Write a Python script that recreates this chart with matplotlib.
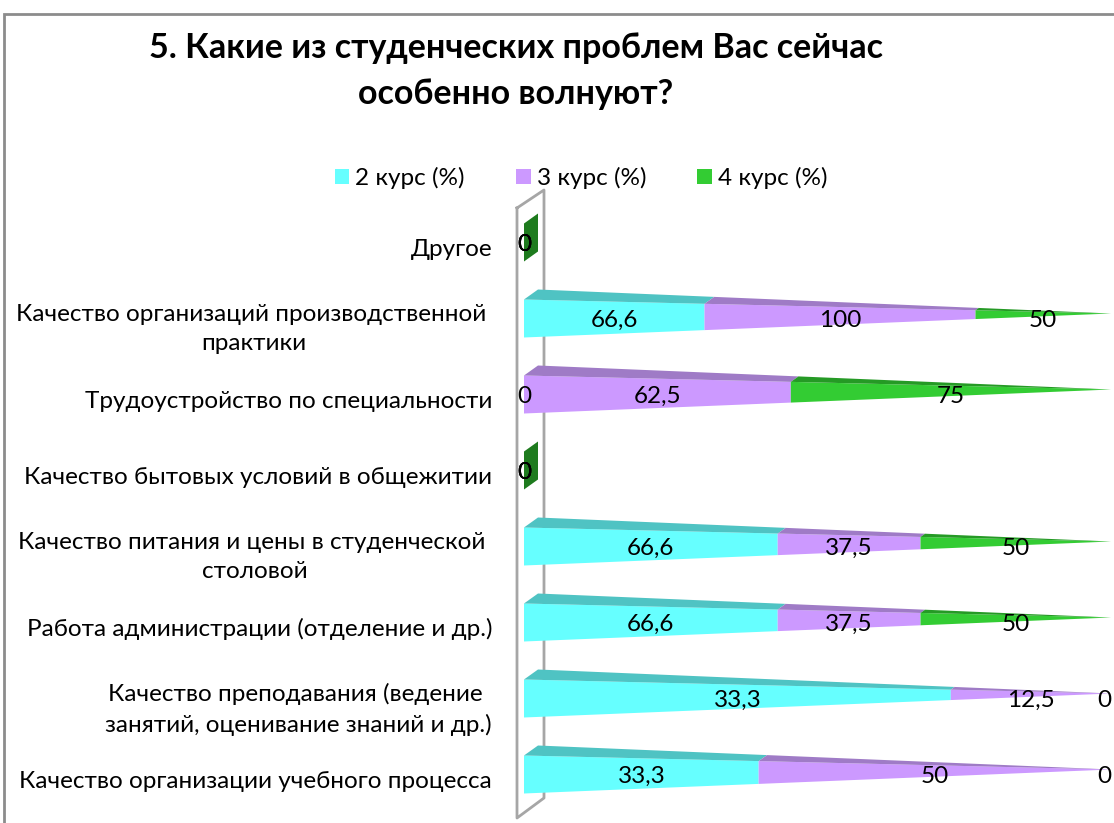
import matplotlib
matplotlib.use("Agg")
from matplotlib import pyplot as plt
from matplotlib.patches import Polygon, Patch, Rectangle
from matplotlib.transforms import ScaledTranslation

plt.rcParams['font.family'] = ['Lato', 'DejaVu Sans']

categories = [
    "Другое",
    "Качество организаций производственной \nпрактики",
    "Трудоустройство по специальности",
    "Качество бытовых условий в общежитии",
    "Качество питания и цены в студенческой \nстоловой",
    "Работа администрации (отделение и др.)",
    "Качество преподавания (ведение \nзанятий, оценивание знаний и др.)",
    "Качество организации учебного процесса",
]
kurs2 = [0, 66.6, 0, 0, 66.6, 66.6, 33.3, 33.3]
kurs3 = [0, 100, 62.5, 0, 37.5, 37.5, 12.5, 50]
kurs4 = [0, 50, 75, 0, 50, 50, 0, 0]
series_names = ["2 курс (%)", "3 курс (%)", "4 курс (%)"]

front_colors = ["#66FFFF", "#CC99FF", "#33CC33"]
top_colors = ["#4FC3C3", "#9F7BC6", "#259A25"]
zero_color = "#1E7B1E"
fs = 17.5

W, H = 1114, 823
fig = plt.figure(figsize=(W / 100, H / 100), dpi=100)

# chart frame (only top and left visible in the original crop)
fig.add_artist(Rectangle((4 / W, -0.1), 1.2, (H - 14) / H + 0.1, transform=fig.transFigure,
                         fill=False, edgecolor="#8C8C8C", lw=2))

fig.text(516 / W, 1 - 71 / H, "5. Какие из студенческих проблем Вас сейчас\nособенно волнуют?",
         ha="center", va="center", fontsize=24.5, fontweight="bold", linespacing=1.5)

ax = fig.add_axes([524 / W, 1 - 812.5 / H, 580 / W, 608 / H])
ax.set_xlim(0, 100)
ax.set_ylim(7.5, -0.5)
ax.patch.set_visible(False)
for s in ax.spines.values():
    s.set_visible(False)
ax.set_xticks([])
ax.set_yticks(range(len(categories)), categories, fontsize=fs, multialignment="center")
ax.tick_params(axis="y", length=0, pad=23)
for lbl in ax.get_yticklabels():
    lbl.set_linespacing(1.45)
    lbl.set_transform(lbl.get_transform() + ScaledTranslation(0, -3.5 / 72, fig.dpi_scale_trans))

px = 580 / 100.0   # pixels per percent
py = 76.0          # pixels per category
dx = 14 / px       # depth offset (x)
dy = -10 / py      # depth offset (y, upward)
hh = 0.25          # half height of front face

# back wall
wall_x = [-7 / px, -7 / px, 20 / px, 20 / px, -7 / px]
wall_y = [-34.5 / py, 575.5 / py, 555.5 / py, -52.5 / py, -34.5 / py]
ax.plot(wall_x, wall_y, color="#A6A6A6", lw=2, clip_on=False, zorder=1)


def pt(f, i, ox, oy):
    xc = 100 * f + dx / 2
    yc = i + dy / 2
    return (xc + (1 - f) * ox, yc + (1 - f) * oy)


ft = (-dx / 2, -hh - dy / 2)
fb = (-dx / 2, hh - dy / 2)
bt = (dx / 2, -hh + dy / 2)

values = [kurs2, kurs3, kurs4]
for i in range(len(categories)):
    row = [v[i] for v in values]
    total = sum(row)
    if total == 0:
        slab = [(0, i - hh), (0, i + hh), (dx, i + hh + dy), (dx, i - hh + dy)]
        ax.add_patch(Polygon(slab, closed=True, facecolor=zero_color, edgecolor="none",
                             clip_on=False, zorder=2))
        for v in row:
            ax.text(0, i + 0.03, "0", ha="center", va="center", fontsize=fs, zorder=5)
        continue
    f0 = 0.0
    for k, v in enumerate(row):
        f1 = f0 + v / total
        if v > 0:
            front = [pt(f0, i, *ft), pt(f1, i, *ft), pt(f1, i, *fb), pt(f0, i, *fb)]
            top = [pt(f0, i, *ft), pt(f0, i, *bt), pt(f1, i, *bt), pt(f1, i, *ft)]
            ax.add_patch(Polygon(front, closed=True, facecolor=front_colors[k],
                                 edgecolor="none", clip_on=False, zorder=3))
            ax.add_patch(Polygon(top, closed=True, facecolor=top_colors[k],
                                 edgecolor="none", clip_on=False, zorder=3))
        xm = (pt(f0, i, *ft)[0] + pt(f1, i, *ft)[0]) / 2
        if v == 0 and f0 >= 0.999:
            xm -= 7 / px
        label = f"{v:g}".replace(".", ",")
        ax.text(xm, i + 0.03, label, ha="center", va="center", fontsize=fs,
                clip_on=False, zorder=5)
        f0 = f1

handles = [Patch(facecolor=c, edgecolor="none") for c in front_colors]
fig.legend(handles, series_names, loc="center", bbox_to_anchor=(581 / W, 1 - 178 / H),
           ncol=3, frameon=False, fontsize=fs, handlelength=0.6, handleheight=0.6,
           handletextpad=0.25, columnspacing=2.1)

plt.savefig("out.png", dpi=100)
